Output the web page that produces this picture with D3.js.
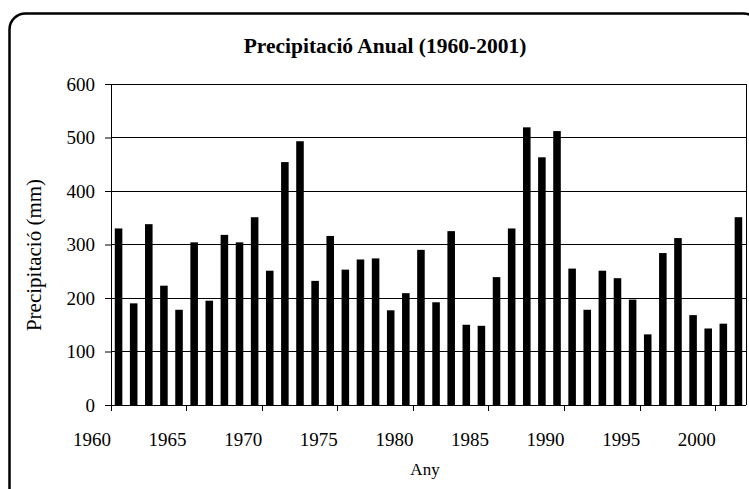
<!DOCTYPE html>
<html>
<head>
<meta charset="utf-8">
<script src="https://cdn.jsdelivr.net/npm/d3@7"></script>
<style>
  body { margin: 0; background: #fff; }
  text { font-family: "Liberation Serif", "Times New Roman", serif; fill: #000; }
</style>
</head>
<body>
<div id="chart"></div>
<script>
// precipitacio anual, 1960-2001 (42 anys)
const years = d3.range(1960, 2002);
const precip = [330, 190, 338, 223, 178, 304, 195, 318, 304, 351,
                251, 454, 493, 232, 316, 253, 272, 274, 177, 209,
                290, 192, 325, 150, 148, 239, 330, 519, 463, 512,
                255, 178, 251, 237, 197, 132, 284, 312, 168, 143,
                152, 351];
const yTicks = [0, 100, 200, 300, 400, 500, 600];
const xTickYears = [1960, 1965, 1970, 1975, 1980, 1985, 1990, 1995, 2000];

const W = 749, H = 489;
const margin = {top: 84, right: 3, bottom: 84, left: 111},
    width = W - margin.left - margin.right,
    height = H - margin.top - margin.bottom;

const root = d3.select("#chart")
  .append("svg")
    .attr("width", W)
    .attr("height", H);

// chart area frame (rounded)
root.append("rect")
    .attr("x", 9.5).attr("y", 13.5)
    .attr("width", 750).attr("height", 500)
    .attr("rx", 16)
    .attr("fill", "#fff")
    .attr("stroke", "#000")
    .attr("stroke-width", 2.5);

root.append("text")
    .attr("x", 385).attr("y", 53)
    .attr("text-anchor", "middle")
    .style("font-size", "21.5px")
    .style("font-weight", "bold")
    .text("Precipitació Anual (1960-2001)");

const svg = root.append("g")
    .attr("transform", `translate(${margin.left},${margin.top})`);

const x = d3.scaleBand()
    .domain(years)
    .range([0, width])
    .paddingInner(0.5)
    .paddingOuter(0.25);

const y = d3.scaleLinear()
    .domain([0, 600])
    .range([height, 0]);

// gridlines
svg.selectAll(".grid")
  .data(yTicks.filter(d => d > 0))
  .enter()
  .append("line")
    .attr("x1", 0).attr("x2", width)
    .attr("y1", d => y(d)).attr("y2", d => y(d))
    .attr("stroke", "#000")
    .attr("stroke-width", 1)
    .attr("shape-rendering", "crispEdges");

// right border of plot area
svg.append("line")
    .attr("x1", width).attr("x2", width)
    .attr("y1", 0).attr("y2", height)
    .attr("stroke", "#000")
    .attr("shape-rendering", "crispEdges");

svg.selectAll(".bar")
  .data(precip)
  .enter()
  .append("rect")
    .attr("class", "bar")
    .attr("x", (d, i) => x(years[i]))
    .attr("y", d => y(d))
    .attr("width", x.bandwidth())
    .attr("height", d => height - y(d))
    .attr("fill", "#000");

// y axis
const yAxis = svg.append("g")
    .call(d3.axisLeft(y).tickValues(yTicks).tickSize(6).tickPadding(10).tickFormat(d3.format("d")));
yAxis.select(".domain").attr("stroke", "#000");
yAxis.selectAll("text").style("font-size", "19px");

// x axis: ticks on category boundaries, labels end at tick
const xAxis = svg.append("g")
    .attr("transform", `translate(0,${height})`);
xAxis.append("line")
    .attr("x1", 0).attr("x2", width)
    .attr("stroke", "#000")
    .attr("shape-rendering", "crispEdges");
const xt = xAxis.selectAll(".xt")
  .data(xTickYears)
  .enter()
  .append("g")
    .attr("transform", d => `translate(${x(d) - x.step() * x.paddingOuter()},0)`);
xt.append("line")
    .attr("y2", 6)
    .attr("stroke", "#000")
    .attr("shape-rendering", "crispEdges");
xt.append("text")
    .attr("y", 41)
    .attr("text-anchor", "end")
    .style("font-size", "19px")
    .text(d => d);

root.append("text")
    .attr("x", 425).attr("y", 475)
    .attr("text-anchor", "middle")
    .style("font-size", "17px")
    .text("Any");

root.append("text")
    .attr("transform", "translate(41,255) rotate(-90)")
    .attr("text-anchor", "middle")
    .style("font-size", "21px")
    .text("Precipitació (mm)");
</script>
</body>
</html>
